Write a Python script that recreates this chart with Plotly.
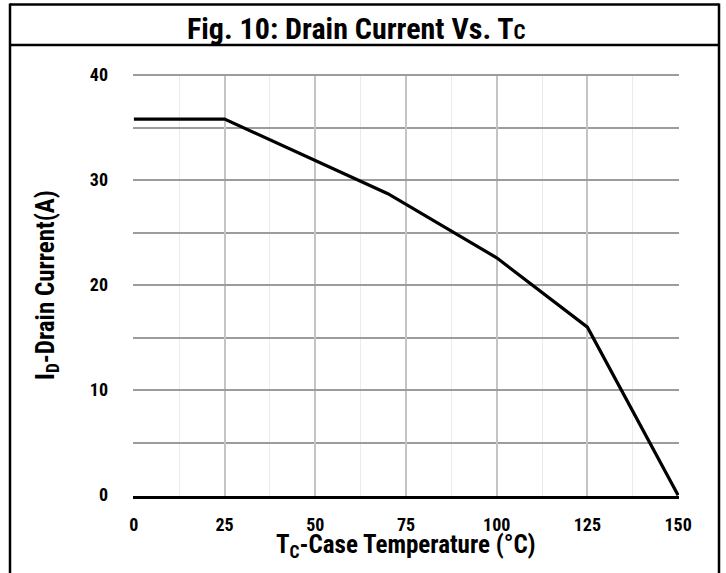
import plotly.graph_objects as go

temp_c = [0, 25, 70, 100, 125, 150]
drain_current_a = [35.8, 35.8, 28.7, 22.6, 16.0, 0.0]
x_ticks = [0, 25, 50, 75, 100, 125, 150]
y_ticks = [0, 10, 20, 30, 40]

FONT = "Roboto Condensed, Liberation Sans Narrow, Arial Narrow, sans-serif"

fig = go.Figure()
fig.add_trace(go.Scatter(x=temp_c, y=drain_current_a, mode="lines",
                         line=dict(color="black", width=3.2), showlegend=False))

fig.update_layout(
    width=726, height=573,
    margin=dict(l=133, r=47, t=74, b=77),
    paper_bgcolor="white", plot_bgcolor="white",
    font=dict(family=FONT, color="black"),
)
fig.update_xaxes(
    range=[-0.25, 150.25], tickvals=x_ticks, ticktext=[str(v) for v in x_ticks],
    showgrid=True, gridcolor="#c4c4c4", gridwidth=2,
    minor=dict(dtick=12.5, tick0=0, showgrid=True, gridcolor="#ebebeb", gridwidth=1),
    showline=True, linecolor="black", linewidth=2.5, automargin=False,
    zeroline=False, ticks="", ticklabelstandoff=11,
    tickfont=dict(size=18, family=FONT, weight="bold"),
)
fig.update_yaxes(
    range=[-0.08, 40.1], tickvals=y_ticks, ticktext=[str(v) for v in y_ticks],
    showgrid=True, gridcolor="#9c9c9c", gridwidth=2,
    minor=dict(dtick=5, tick0=0, showgrid=True, gridcolor="#9c9c9c", gridwidth=2),
    showline=False, zeroline=False, ticks="", ticklabelstandoff=24, automargin=False,
    tickfont=dict(size=18, family=FONT, weight="bold"),
    title=dict(text="I<sub>D</sub>-Drain Current(A)", standoff=28,
               font=dict(size=25, family=FONT, weight="bold")),
)

# frame and title band (positions in page pixels, converted to paper coords)
pw, ph = 546.0, 422.0
def px(x): return (x - 133) / pw
def py(y): return (496 - y) / ph
border = dict(color="black", width=2.5)
for (xa, ya, xb, yb) in [(10, 4.5, 719, 4.5), (10, 45, 719, 45),
                         (10, 3.5, 10, 573), (719, 3.5, 719, 573)]:
    fig.add_shape(type="line", xref="paper", yref="paper",
                  x0=px(xa), x1=px(xb), y0=py(ya), y1=py(yb), line=border)
fig.add_annotation(xref="paper", yref="paper", x=px(356), y=py(28),
                   text="Fig. 10: Drain Current Vs. T<span style='font-size:21px'>C</span>",
                   showarrow=False, xanchor="center", yanchor="middle",
                   font=dict(size=30, family=FONT, weight="bold"))
fig.add_annotation(xref="paper", yref="paper", x=px(406), y=py(546),
                   text="T<sub>C</sub>-Case Temperature (°C)",
                   showarrow=False, xanchor="center", yanchor="middle",
                   font=dict(size=25, family=FONT, weight="bold"))

fig.write_html("out.html", config={"displayModeBar": False},
               post_script="document.body.style.margin='0';")
